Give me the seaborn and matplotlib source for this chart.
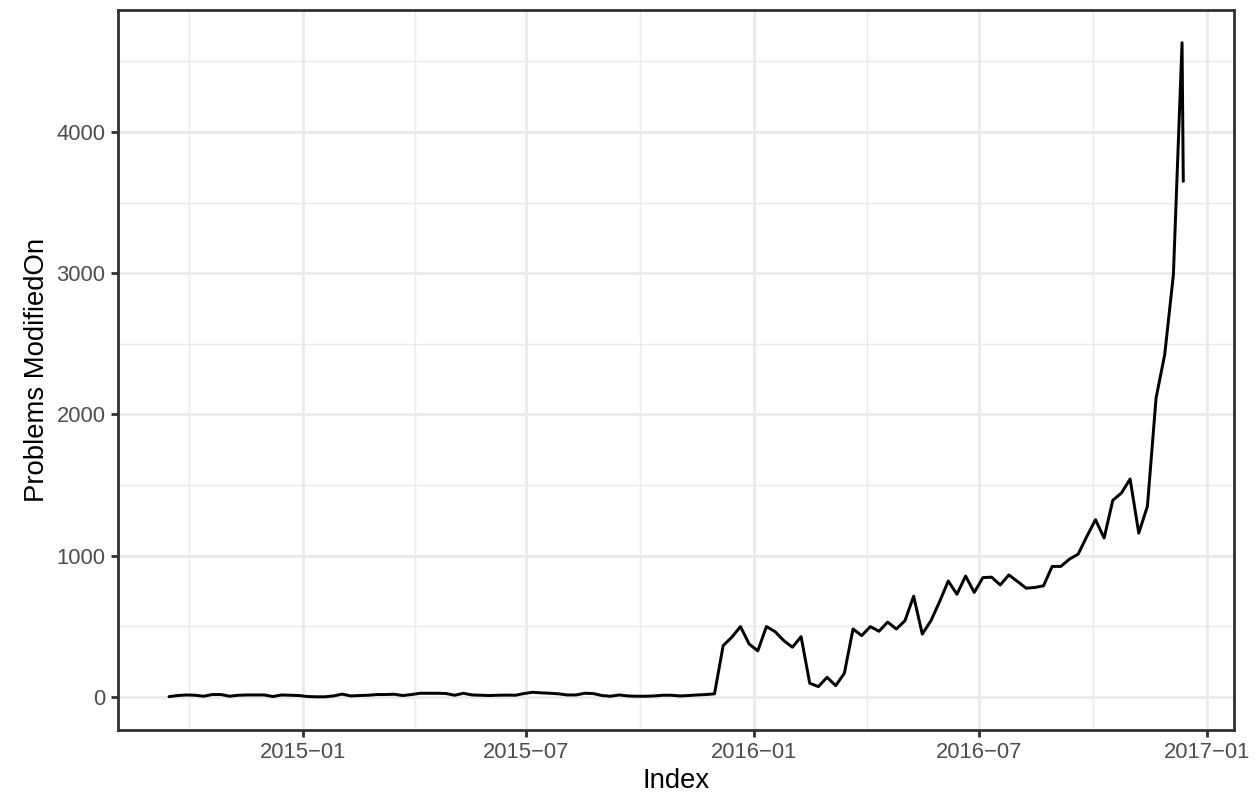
import numpy as np
import pandas as pd
import matplotlib
matplotlib.use("Agg")
import matplotlib.pyplot as plt
import matplotlib.dates as mdates
import seaborn as sns

# Weekly counts of problems modified, starting Monday 2014-09-15
week_start = "2014-09-15"
counts_early = [2, 10, 14, 12, 5, 17, 17, 5, 12, 14, 14, 14, 3, 14, 12, 10,
                3, 1, 1, 7, 20, 7, 10, 12, 17, 17, 19, 10, 17, 26, 26, 26,
                24, 12, 26, 14, 12, 10, 12, 13, 12, 24, 33, 29, 26, 22, 14, 14,
                26, 24, 10, 5, 14, 7, 5, 5, 7, 12, 12, 7, 10, 14, 17, 22]
counts_2016a = [363, 423, 498, 375, 326, 498, 462, 399, 352, 427, 97, 73,
                139, 80, 168, 481, 434, 498]
counts_2016b = [465, 530, 481, 540, 713, 445, 540, 675, 821, 727, 856, 740,
                845, 848, 793, 864, 817, 770]
counts_2016c = [775, 787, 924, 924, 976, 1011, 1136, 1255, 1125, 1392, 1444,
                1543, 1160, 1350, 2117, 2425, 2989, 4632]
# last, partial observation
last_date = "2016-12-13"
last_count = 3650

weekly = counts_early + counts_2016a + counts_2016b + counts_2016c
dates = list(pd.date_range(week_start, periods=len(weekly), freq="7D"))
dates.append(pd.Timestamp(last_date))
values = weekly + [last_count]
df = pd.DataFrame({"Index": dates, "Problems ModifiedOn": values})

sns.set_style("white")
plt.rcParams["font.family"] = ["Liberation Sans", "DejaVu Sans"]

k = 1.27   # scale of line sizes
kt = 1.2   # scale of text sizes
fig = plt.figure(figsize=(8.4, 799 / 150), dpi=150)
ax = fig.add_axes([118.3 / 1260, 1 - 729.5 / 799,
                   (1234 - 118.3) / 1260, (729.5 - 10.0) / 799])

lw = 1.07 * k
sns.lineplot(data=df, x="Index", y="Problems ModifiedOn", color="black",
             linewidth=lw * 1.05, ax=ax, zorder=3)

# 5% expansion of both scales
xnum = mdates.date2num(df["Index"])
xr = xnum.max() - xnum.min()
ax.set_xlim(xnum.min() - 0.05 * xr, xnum.max() + 0.05 * xr)
yv = np.asarray(values, dtype=float)
yr = yv.max() - yv.min()
ax.set_ylim(yv.min() - 0.05 * yr, yv.max() + 0.05 * yr)

major_dates = pd.to_datetime(["2014-07-01", "2015-01-01", "2015-07-01",
                              "2016-01-01", "2016-07-01", "2017-01-01"])
major_num = mdates.date2num(major_dates)
minor_num = (major_num[:-1] + major_num[1:]) / 2
ax.set_xticks(major_num[1:])
ax.set_xticklabels([d.strftime("%Y\u2212%m") for d in major_dates[1:]])
ax.set_xticks(minor_num, minor=True)

ax.set_yticks([0, 1000, 2000, 3000, 4000])
ax.set_yticks([500, 1500, 2500, 3500, 4500], minor=True)

ax.grid(which="major", color="#EBEBEB", linewidth=lw, zorder=0)
ax.grid(which="minor", color="#EBEBEB", linewidth=lw / 2, zorder=0)
ax.set_axisbelow(True)

for s in ax.spines.values():
    s.set_color("#333333")
    s.set_linewidth(lw)
    s.set_visible(True)

ax.tick_params(which="major", length=2.75 * k, width=lw, color="#333333",
               labelsize=8.8 * kt, labelcolor="#4D4D4D", pad=2.2 * kt,
               bottom=True, left=True)
ax.tick_params(which="minor", length=0)

ax.set_xlabel("Index", fontsize=11 * kt, color="black", labelpad=2.0 * kt)
ax.set_ylabel("Problems ModifiedOn", fontsize=11 * kt, color="black",
              labelpad=2.75 * kt)

fig.savefig("out.png", dpi=150, facecolor="white")
